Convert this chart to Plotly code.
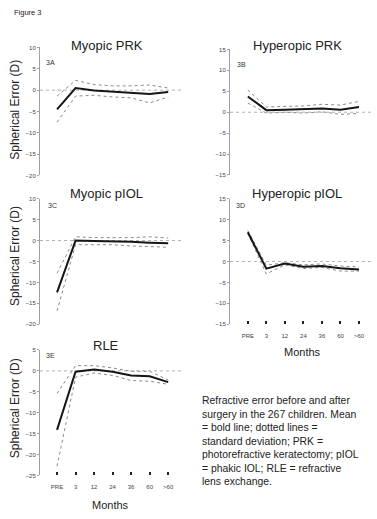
import plotly.graph_objects as go

W, H = 377, 519

months = ["PRE", "3", "12", "24", "36", "60", ">60"]
xpos = list(range(len(months)))

# Myopic PRK (3A)
myopic_prk_mean = [-4.5, 0.5, -0.1, -0.35, -0.5, -0.9, -0.45]
myopic_prk_upper = [-1.4, 2.3, 1.3, 1.0, 1.0, 1.2, 0.5]
myopic_prk_lower = [-7.5, -1.4, -1.2, -1.6, -1.8, -3.0, -1.6]

# Hyperopic PRK (3B)
hyperopic_prk_mean = [3.75, 0.5, 0.6, 0.7, 0.9, 0.6, 1.25]
hyperopic_prk_upper = [5.3, 1.25, 1.4, 1.5, 1.9, 1.7, 2.6]
hyperopic_prk_lower = [2.2, -0.2, 0.0, -0.2, 0.1, -0.5, -0.3]

# Myopic pIOL (3C)
myopic_piol_mean = [-12.4, 0.0, -0.1, -0.15, -0.3, -0.5, -0.65]
myopic_piol_upper = [-7.8, 0.9, 0.7, 0.7, 0.7, 0.9, 0.6]
myopic_piol_lower = [-16.8, -1.0, -1.0, -1.0, -1.3, -1.5, -1.6]

# Hyperopic pIOL (3D)
hyperopic_piol_mean = [7.0, -1.7, -0.5, -1.25, -1.1, -1.6, -1.9]
hyperopic_piol_upper = [7.4, -0.9, -0.3, -0.8, -0.6, -1.1, -1.3]
hyperopic_piol_lower = [6.7, -3.0, -0.8, -1.7, -1.4, -2.3, -2.3]

# RLE (3E)
rle_mean = [-14.1, -0.2, 0.3, -0.2, -1.1, -1.3, -2.7]
rle_upper = [-5.4, 1.25, 1.25, 0.7, -0.1, -0.1, -2.2]
rle_lower = [-22.8, -1.5, -0.5, -1.1, -2.3, -2.5, -3.2]

panels = [
    dict(title="Myopic PRK", label="3A", mean=myopic_prk_mean, up=myopic_prk_upper, lo=myopic_prk_lower,
         xpx=(40, 183), ypx=(45, 174.5), yr=(-20, 10), xr=(-0.92, 6.8), xt=False,
         tpos=(107, 43), lpos=(50, 60)),
    dict(title="Hyperopic PRK", label="3B", mean=hyperopic_prk_mean, up=hyperopic_prk_upper, lo=hyperopic_prk_lower,
         xpx=(230, 372), ypx=(47, 174), yr=(-15, 15), xr=(-0.96, 6.7), xt=False,
         tpos=(297, 43), lpos=(242, 62)),
    dict(title="Myopic pIOL", label="3C", mean=myopic_piol_mean, up=myopic_piol_upper, lo=myopic_piol_lower,
         xpx=(40, 183), ypx=(198, 325), yr=(-20, 10), xr=(-0.92, 6.8), xt=False,
         tpos=(106, 193), lpos=(52, 205)),
    dict(title="Hyperopic pIOL", label="3D", mean=hyperopic_piol_mean, up=hyperopic_piol_upper, lo=hyperopic_piol_lower,
         xpx=(230, 372), ypx=(198, 325), yr=(-15, 15), xr=(-0.96, 6.7), xt=True,
         tpos=(297, 193), lpos=(240, 205)),
    dict(title="RLE", label="3E", mean=rle_mean, up=rle_upper, lo=rle_lower,
         xpx=(40, 183), ypx=(351, 478), yr=(-25, 5), xr=(-0.92, 6.8), xt=True,
         tpos=(106, 347), lpos=(50, 357)),
]

fig = go.Figure()
layout = {}
annotations = []
shapes = []

def px(x):
    return x / W

def py(y):
    return 1 - y / H

FONT = "Liberation Sans, Arial, sans-serif"

for i, p in enumerate(panels, start=1):
    xa = "x" if i == 1 else f"x{i}"
    ya = "y" if i == 1 else f"y{i}"
    xkey = "xaxis" if i == 1 else f"xaxis{i}"
    ykey = "yaxis" if i == 1 else f"yaxis{i}"
    for vals, color, width, dash in [(p["up"], "#8a8a8a", 1, "dot"),
                                     (p["lo"], "#8a8a8a", 1, "dot"),
                                     (p["mean"], "#151515", 2, "solid")]:
        fig.add_trace(go.Scatter(x=xpos, y=vals, mode="lines", xaxis=xa, yaxis=ya,
                                 line=dict(color=color, width=width, dash=dash),
                                 showlegend=False, hoverinfo="skip"))
    layout[xkey] = dict(domain=[px(p["xpx"][0]), px(p["xpx"][1])], range=list(p["xr"]),
                        anchor=ya, showgrid=False, zeroline=False, showline=False,
                        tickmode="array", tickvals=xpos, ticktext=months,
                        showticklabels=p["xt"], ticks="inside" if p["xt"] else "",
                        ticklen=3, tickwidth=1.5, tickcolor="#222", ticklabelstandoff=7,
                        tickfont=dict(size=6, color="#444", family=FONT), fixedrange=True)
    layout[ykey] = dict(domain=[py(p["ypx"][1]), py(p["ypx"][0])], range=list(p["yr"]),
                        anchor=xa, showgrid=False, zeroline=False, showline=True,
                        linecolor="#a0a0a0", linewidth=1, ticks="outside", ticklen=2,
                        tickcolor="#a0a0a0", dtick=5, tick0=0,
                        tickfont=dict(size=6, color="#444", family=FONT), fixedrange=True)
    shapes.append(dict(type="line", xref=f"{xa} domain", yref=ya, x0=0, x1=1, y0=0, y1=0,
                       line=dict(color="#b0b0b0", width=1, dash="dot"), layer="below"))
    annotations.append(dict(text=p["title"], x=px(p["tpos"][0]), y=py(p["tpos"][1]),
                            xref="paper", yref="paper", showarrow=False,
                            xanchor="center", yanchor="middle",
                            font=dict(size=13, color="#222", family=FONT)))
    annotations.append(dict(text=p["label"], x=px(p["lpos"][0]), y=py(p["lpos"][1]),
                            xref="paper", yref="paper", showarrow=False,
                            xanchor="center", yanchor="middle",
                            font=dict(size=7, color="#333", family=FONT)))

# y-axis titles
for yc in (108, 256, 410):
    annotations.append(dict(text="Spherical Error (D)", x=px(15), y=py(yc), xref="paper", yref="paper",
                            showarrow=False, textangle=-90, xanchor="center", yanchor="middle",
                            font=dict(size=12, color="#222", family=FONT)))

# x-axis titles
for (xc, yc) in ((302, 353), (110, 508)):
    annotations.append(dict(text="Months", x=px(xc), y=py(yc), xref="paper", yref="paper",
                            showarrow=False, xanchor="center", yanchor="middle",
                            font=dict(size=11, color="#222", family=FONT)))

annotations.append(dict(text="Figure 3", x=px(12), y=py(10), xref="paper", yref="paper",
                        showarrow=False, xanchor="left", yanchor="middle",
                        font=dict(size=7.5, color="#222", family=FONT)))

caption = ("Refractive error before and after<br>surgery in the 267 children. Mean<br>"
           "= bold line; dotted lines =<br>standard deviation; PRK =<br>"
           "photorefractive keratectomy; pIOL<br>= phakic IOL; RLE = refractive<br>lens exchange.")
annotations.append(dict(text=caption, x=px(200), y=py(395), xref="paper", yref="paper",
                        showarrow=False, xanchor="left", yanchor="top", align="left",
                        font=dict(size=10.4, color="#222", family=FONT)))

fig.update_layout(width=W, height=H, margin=dict(l=0, r=0, t=0, b=0),
                  paper_bgcolor="white", plot_bgcolor="white",
                  annotations=annotations, shapes=shapes, **layout)

fig.write_html("out.html", config={"displayModeBar": False},
               post_script="document.body.style.margin='0';document.body.style.padding='0';")
